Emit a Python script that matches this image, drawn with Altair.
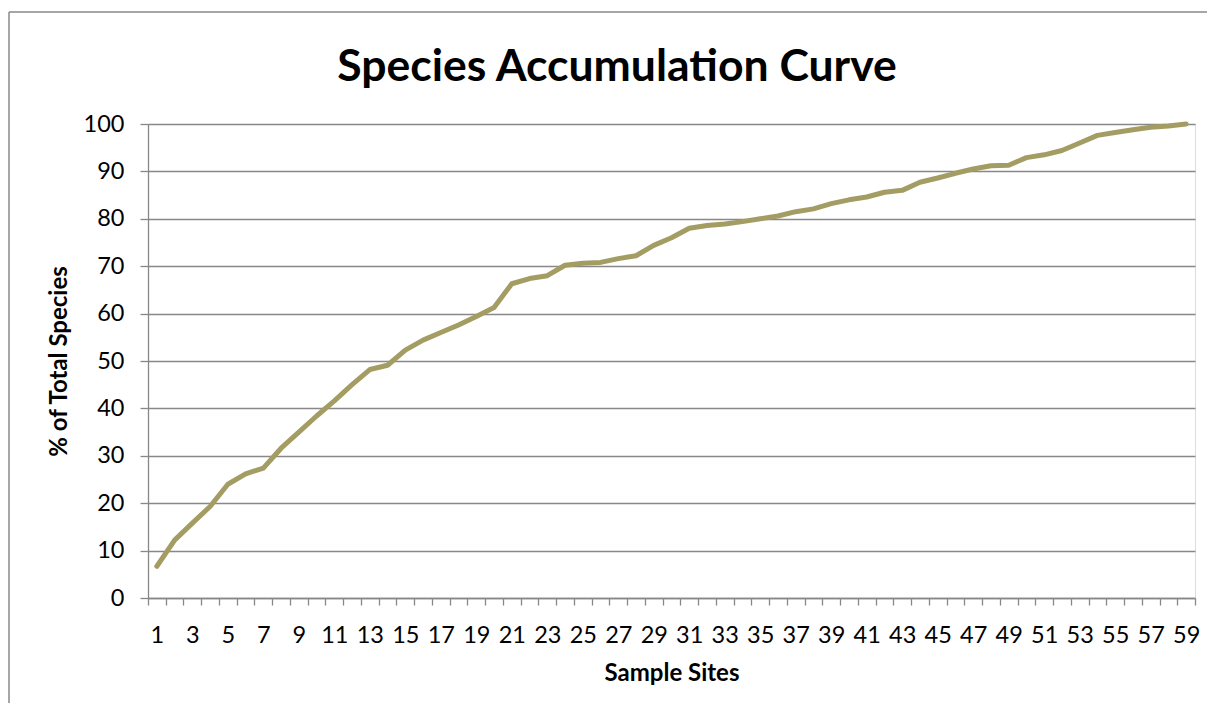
import altair as alt
import pandas as pd

title_text = "Species Accumulation Curve"
sites = list(range(1, 60))
pct = [6.7, 12.2, 15.8, 19.3, 24.0, 26.2, 27.4, 31.6, 35.0, 38.4,
       41.6, 45.0, 48.2, 49.1, 52.3, 54.4, 56.0, 57.6, 59.4, 61.3,
       66.3, 67.4, 68.0, 70.2, 70.6, 70.8, 71.6, 72.2, 74.4, 76.0,
       78.0, 78.6, 78.9, 79.4, 80.0, 80.6, 81.5, 82.1, 83.2, 84.0,
       84.6, 85.6, 86.0, 87.7, 88.6, 89.6, 90.5, 91.2, 91.3, 92.9,
       93.5, 94.4, 96.0, 97.6, 98.2, 98.8, 99.3, 99.6, 100.0]
y_ticks = list(range(0, 101, 10))

df = pd.DataFrame({"site": sites, "pct": pct})

GRAY = "#888888"
FONT = "Lato"

line = alt.Chart(df).mark_line(
    color="#A49D63", strokeWidth=5, strokeCap="round", strokeJoin="round"
).encode(
    x=alt.X(
        "site:O",
        bandPosition=0.5,
        scale=alt.Scale(type="band", paddingInner=0, paddingOuter=0),
        axis=alt.Axis(
            title="Sample Sites",
            tickBand="extent",
            labelExpr="datum.value % 2 == 1 ? datum.label : ''",
            labelAngle=0,
            labelOverlap=False,
            labelFont=FONT,
            labelFontSize=23.5,
            labelColor="black",
            labelBaseline="alphabetic",
            labelPadding=37,
            tickSize=7,
            tickColor=GRAY,
            tickWidth=1.3,
            domainColor=GRAY,
            domainWidth=1.3,
            grid=False,
            titleFont=FONT,
            titleFontSize=24,
            titleFontWeight="bold",
            titleColor="black",
            titleBaseline="alphabetic",
            titleX=523.5,
            titleY=82,
        ),
    ),
    y=alt.Y(
        "pct:Q",
        scale=alt.Scale(domain=[0, 100], nice=False),
        axis=alt.Axis(
            title="% of Total Species",
            values=y_ticks,
            grid=True,
            gridColor=GRAY,
            gridWidth=1.3,
            tickSize=8,
            tickColor=GRAY,
            tickWidth=1.3,
            domainColor=GRAY,
            domainWidth=1.3,
            labelFont=FONT,
            labelFontSize=23.5,
            labelColor="black",
            labelPadding=16,
            titleFont=FONT,
            titleFontSize=24,
            titleFontWeight="bold",
            titleColor="black",
            titleBaseline="alphabetic",
            titleAngle=270,
            titleX=-82,
            titleY=237,
            titleAlign="center",
        ),
    ),
)

frame_data = alt.Data(values=[{"k": 1}])
left_border = alt.Chart(frame_data).mark_rule(color=GRAY, strokeWidth=1.5).encode(
    x=alt.value(-139), y=alt.value(-112), y2=alt.value(700)
)
top_border = alt.Chart(frame_data).mark_rule(color=GRAY, strokeWidth=1.5).encode(
    x=alt.value(-139), x2=alt.value(1100), y=alt.value(-112)
)
title = alt.Chart(frame_data).mark_text(
    font=FONT, fontSize=44.5, fontWeight="bold", color="black",
    align="center", baseline="alphabetic"
).encode(
    x=alt.value(469), y=alt.value(-43), text=alt.value(title_text)
)

chart = alt.layer(left_border, top_border, title, line).properties(
    width=1047,
    height=474,
    padding={"left": 140, "top": 116, "right": 12, "bottom": 105},
    autosize=alt.AutoSizeParams(type="none"),
).configure_view(stroke=None).configure(background="white")

chart.save("out.html", embed_options={"renderer": "svg", "actions": False})
